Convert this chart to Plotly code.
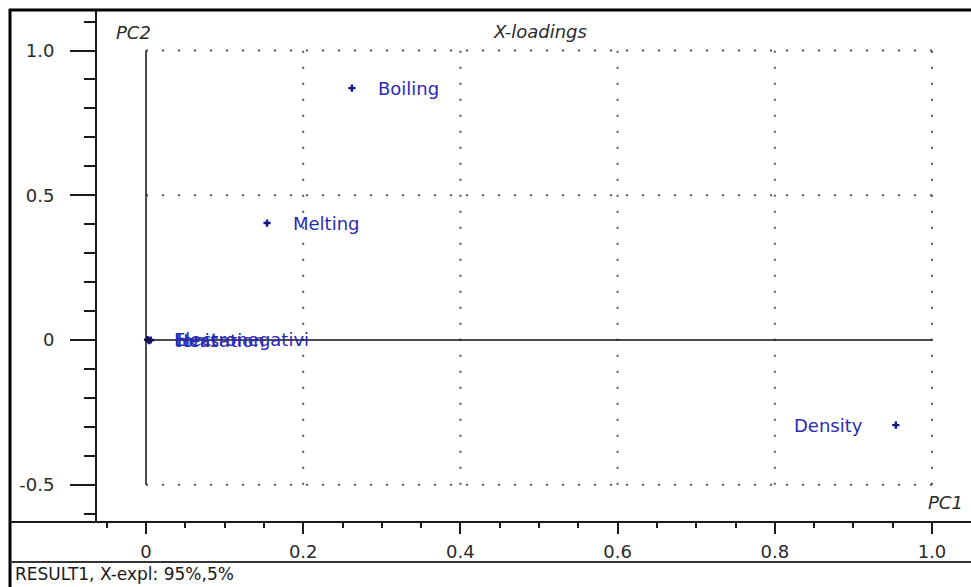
import plotly.graph_objects as go

# X-loadings for the first two principal components
variables = ["Boiling", "Melting", "Density", "Electronegativi", "Heat", "Ionisation"]
pc1 = [0.262, 0.154, 0.954, 0.002, 0.004, 0.006]
pc2 = [0.870, 0.404, -0.294, 0.001, -0.002, 0.000]
label_side = ["right", "right", "left", "right", "right", "right"]

x_ticks = [0, 0.2, 0.4, 0.6, 0.8, 1.0]
x_tick_text = ["0", "0.2", "0.4", "0.6", "0.8", "1.0"]
y_ticks = [-0.5, 0, 0.5, 1.0]
y_tick_text = ["-0.5", "0", "0.5", "1.0"]
grid_x = [0.2, 0.4, 0.6, 0.8, 1.0]
grid_y = [-0.5, 0.5, 1.0]

caption = "RESULT1, X-expl: 95%,5%"

FONT = "DejaVu Sans"
MARK = "#14148a"
LABEL = "#2a2ab8"
TXT = "#2a2a2a"

W, H = 971, 587
ML, MT, MB = 97, 10, 65
PW, PH = W - ML, H - MT - MB


def px_x(px):
    return (px - ML) / PW


def px_y(py):
    return (H - MB - py) / PH


fig = go.Figure()

fig.add_trace(go.Scatter(
    x=pc1, y=pc2, mode="markers",
    marker=dict(symbol="cross", size=6, color=MARK, line=dict(width=0)),
    hoverinfo="skip", showlegend=False,
))

shapes = []
# dotted grid within the loading region
for gx in grid_x:
    shapes.append(dict(type="line", xref="x", yref="y", x0=gx, x1=gx,
                       y0=min(grid_y), y1=max(grid_y), layer="below",
                       line=dict(color="#555555", width=2, dash="2px,14px")))
for gy in grid_y:
    shapes.append(dict(type="line", xref="x", yref="y", x0=0, x1=1.0,
                       y0=gy, y1=gy, layer="below",
                       line=dict(color="#555555", width=2, dash="2px,14px")))
# solid zero axes
shapes.append(dict(type="line", xref="x", yref="y", x0=0, x1=1.0, y0=0, y1=0,
                   line=dict(color="#111111", width=1.5)))
shapes.append(dict(type="line", xref="x", yref="y", x0=0, x1=0,
                   y0=min(grid_y), y1=max(grid_y),
                   line=dict(color="#111111", width=1.5)))
# window frame
shapes.append(dict(type="line", xref="paper", yref="paper",
                   x0=px_x(9), x1=1.01, y0=px_y(10), y1=px_y(10),
                   line=dict(color="#000000", width=3)))
shapes.append(dict(type="line", xref="paper", yref="paper",
                   x0=px_x(10), x1=px_x(10), y0=px_y(9), y1=px_y(H + 2),
                   line=dict(color="#000000", width=3)))
shapes.append(dict(type="line", xref="paper", yref="paper",
                   x0=px_x(10), x1=1.01, y0=px_y(522), y1=px_y(522),
                   line=dict(color="#1a1a1a", width=2)))
shapes.append(dict(type="line", xref="paper", yref="paper",
                   x0=px_x(10), x1=1.01, y0=px_y(562), y1=px_y(562),
                   line=dict(color="#333333", width=2)))

annotations = []
for name, vx, vy, side in zip(variables, pc1, pc2, label_side):
    annotations.append(dict(
        x=vx, y=vy, xref="x", yref="y", text=name, showarrow=False,
        xanchor="left" if side == "right" else "right", yanchor="middle",
        xshift=24 if side == "right" else -31,
        font=dict(family=FONT, size=18, color=LABEL),
    ))

title_font = dict(family=FONT, size=18, color=TXT)
annotations += [
    dict(x=px_x(540), y=px_y(31), xref="paper", yref="paper", text="<i>X-loadings</i>",
         showarrow=False, xanchor="center", yanchor="middle", font=title_font),
    dict(x=px_x(114), y=px_y(32), xref="paper", yref="paper", text="<i>PC2</i>",
         showarrow=False, xanchor="left", yanchor="middle", font=title_font),
    dict(x=px_x(965), y=px_y(502), xref="paper", yref="paper", text="<i>PC1</i>",
         showarrow=False, xanchor="right", yanchor="middle", font=title_font),
    dict(x=px_x(14), y=px_y(574), xref="paper", yref="paper", text=caption,
         showarrow=False, xanchor="left", yanchor="middle", borderpad=0,
         font=dict(family=FONT, size=17, color="#1a1a1a")),
]

x_per_px = 1 / 786.0
y_per_px = 1 / 289.5

fig.update_layout(
    width=W, height=H,
    margin=dict(l=ML, r=0, t=MT, b=MB, pad=0),
    paper_bgcolor="white", plot_bgcolor="white",
    font=dict(family=FONT, size=18, color=TXT),
    shapes=shapes, annotations=annotations,
    xaxis=dict(
        range=[-49 * x_per_px, (W - 146) * x_per_px],
        tickmode="array", tickvals=x_ticks, ticktext=x_tick_text,
        ticks="outside", ticklen=11, tickwidth=2, tickcolor="#1a1a1a",
        showline=False, showgrid=False, zeroline=False,
        tickfont=dict(family=FONT, size=18, color=TXT),
        ticklabelstandoff=2,
        minor=dict(tickmode="linear", tick0=0, dtick=0.05, ticks="outside",
                   ticklen=5, tickwidth=2, tickcolor="#1a1a1a", showgrid=False),
        fixedrange=True,
    ),
    yaxis=dict(
        range=[-(522 - 340) * y_per_px, (340 - 10) * y_per_px],
        tickmode="array", tickvals=y_ticks, ticktext=y_tick_text,
        ticks="outside", ticklen=25, tickwidth=2, tickcolor="#1a1a1a",
        showline=True, linewidth=2, linecolor="#1a1a1a",
        showgrid=False, zeroline=False,
        tickfont=dict(family=FONT, size=18, color=TXT),
        ticklabelstandoff=12,
        minor=dict(tickmode="linear", tick0=0, dtick=0.1, ticks="outside",
                   ticklen=11, tickwidth=2, tickcolor="#1a1a1a", showgrid=False),
        fixedrange=True,
    ),
)

fig.write_html("out.html")
